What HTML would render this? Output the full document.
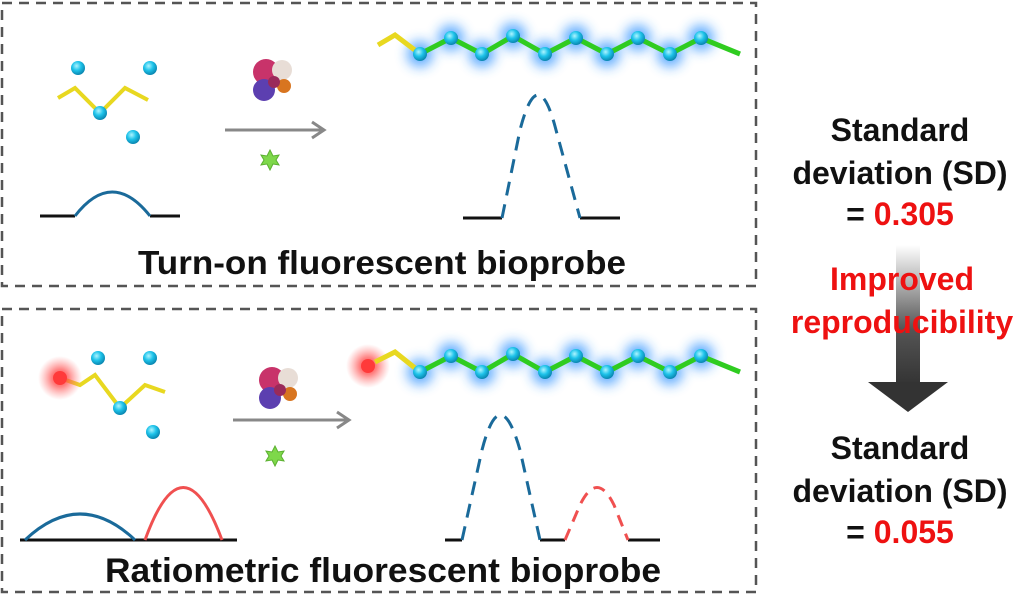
<!DOCTYPE html>
<html><head><meta charset="utf-8"><style>
html,body{margin:0;padding:0;background:#fff;width:1024px;height:597px;overflow:hidden}
text{font-family:"Liberation Sans",Arial,sans-serif;font-weight:bold}
</style></head><body>
<svg width="1024" height="597" viewBox="0 0 1024 597" xmlns="http://www.w3.org/2000/svg">
<defs>
<radialGradient id="sph" cx="40%" cy="35%" r="65%"><stop offset="0" stop-color="#aef4ff"/><stop offset="0.5" stop-color="#1ec3ea"/><stop offset="1" stop-color="#0a86b0"/></radialGradient>
<filter id="blur" x="-50%" y="-50%" width="200%" height="200%"><feGaussianBlur stdDeviation="6"/></filter>
<radialGradient id="rglow"><stop offset="0" stop-color="#ff3030" stop-opacity="1"/><stop offset="0.4" stop-color="#ff5050" stop-opacity="0.7"/><stop offset="1" stop-color="#ff8080" stop-opacity="0"/></radialGradient>
<linearGradient id="arr" x1="0" y1="0" x2="0" y2="1"><stop offset="0" stop-color="#fff"/><stop offset="0.6" stop-color="#555"/><stop offset="1" stop-color="#333"/></linearGradient>
<g id="prot">
<circle cx="-6" cy="-8" r="13" fill="#c8336a"/><circle cx="10" cy="-10" r="10" fill="#e8ddd6"/><circle cx="-8" cy="10" r="11" fill="#5c3fb0"/><circle cx="12" cy="6" r="7" fill="#d87520"/><circle cx="2" cy="2" r="6" fill="#9a2a5a"/>
</g>
<g id="star"><polygon points="0,-10 3,-4 9,-5 6,0 9,5 3,4 0,10 -3,4 -9,5 -6,0 -9,-5 -3,-4" fill="#7ed84a" stroke="#5bb030" stroke-width="1"/></g>
<g id="glows" fill="#2a90ff" opacity="0.75" filter="url(#blur)"><circle cx="420" cy="54" r="13"/><circle cx="451" cy="38" r="13"/><circle cx="482" cy="54" r="13"/><circle cx="513" cy="36" r="13"/><circle cx="545" cy="54" r="13"/><circle cx="576" cy="38" r="13"/><circle cx="607" cy="54" r="13"/><circle cx="638" cy="38" r="13"/><circle cx="670" cy="54" r="13"/><circle cx="701" cy="38" r="13"/></g>
<g id="chain">
<polyline points="420,54 451,38 482,54 513,36 545,54 576,38 607,54 638,38 670,54 701,38 740,54" fill="none" stroke="#2fcc20" stroke-width="5"/>
<g fill="url(#sph)"><circle cx="420" cy="54" r="7"/><circle cx="451" cy="38" r="7"/><circle cx="482" cy="54" r="7"/><circle cx="513" cy="36" r="7"/><circle cx="545" cy="54" r="7"/><circle cx="576" cy="38" r="7"/><circle cx="607" cy="54" r="7"/><circle cx="638" cy="38" r="7"/><circle cx="670" cy="54" r="7"/><circle cx="701" cy="38" r="7"/></g>
</g>
</defs>
<rect x="2" y="3" width="754" height="283" fill="none" stroke="#555" stroke-width="2.5" stroke-dasharray="10,7"/>
<rect x="2" y="309" width="754" height="283" fill="none" stroke="#555" stroke-width="2.5" stroke-dasharray="10,7"/>

<!-- top left -->
<circle cx="78" cy="68" r="7" fill="url(#sph)"/><circle cx="150" cy="68" r="7" fill="url(#sph)"/><circle cx="133" cy="137" r="7" fill="url(#sph)"/>
<polyline points="58,98 75,88 100,113 125,88 148,100" fill="none" stroke="#e8d820" stroke-width="4"/>
<circle cx="100" cy="113" r="7" fill="url(#sph)"/>
<use href="#prot" x="272" y="80"/>
<line x1="225" y1="130" x2="322" y2="130" stroke="#888" stroke-width="3"/><polyline points="312,122 324,130 312,138" fill="none" stroke="#888" stroke-width="3"/>
<use href="#star" x="270" y="160"/>
<line x1="40" y1="216" x2="75" y2="216" stroke="#111" stroke-width="3"/><line x1="150" y1="216" x2="180" y2="216" stroke="#111" stroke-width="3"/>
<path d="M75,216 Q112,168 150,216" fill="none" stroke="#1a6a9a" stroke-width="3"/>
<line x1="463" y1="218" x2="502" y2="218" stroke="#111" stroke-width="3"/><line x1="580" y1="218" x2="620" y2="218" stroke="#111" stroke-width="3"/>
<path d="M502,218 L520,130 Q538,60 556,130 L580,218" fill="none" stroke="#1a6a9a" stroke-width="3" stroke-dasharray="14,9"/>
<use href="#glows"/>
<polyline points="378,45 395,35 420,54" fill="none" stroke="#e8d820" stroke-width="5"/>
<use href="#chain"/>
<text x="382" y="274" font-size="33" text-anchor="middle" textLength="488" lengthAdjust="spacingAndGlyphs" fill="#111">Turn-on fluorescent bioprobe</text>

<!-- bottom left -->
<circle cx="98" cy="358" r="7" fill="url(#sph)"/><circle cx="150" cy="358" r="7" fill="url(#sph)"/><circle cx="153" cy="432" r="7" fill="url(#sph)"/>
<polyline points="60,378 80,385 95,375 120,408 145,385 165,392" fill="none" stroke="#e8d820" stroke-width="4"/>
<circle cx="120" cy="408" r="7" fill="url(#sph)"/>
<circle cx="60" cy="378" r="22" fill="url(#rglow)"/><circle cx="60" cy="378" r="7" fill="#ff3a3a"/>
<use href="#prot" x="278" y="388"/>
<line x1="233" y1="420" x2="347" y2="420" stroke="#888" stroke-width="3"/><polyline points="337,412 349,420 337,428" fill="none" stroke="#888" stroke-width="3"/>
<use href="#star" x="275" y="456"/>
<line x1="20" y1="540" x2="237" y2="540" stroke="#111" stroke-width="3"/>
<path d="M25,540 Q80,488 135,540" fill="none" stroke="#1a6a9a" stroke-width="3"/>
<path d="M145,540 Q183,435 222,540" fill="none" stroke="#f05050" stroke-width="3"/>
<line x1="445" y1="540" x2="462" y2="540" stroke="#111" stroke-width="3"/><line x1="540" y1="540" x2="565" y2="540" stroke="#111" stroke-width="3"/><line x1="628" y1="540" x2="660" y2="540" stroke="#111" stroke-width="3"/>
<path d="M462,540 L482,450 Q500,380 520,450 L540,540" fill="none" stroke="#1a6a9a" stroke-width="3" stroke-dasharray="14,9"/>
<path d="M565,540 L580,505 Q597,470 614,505 L628,540" fill="none" stroke="#f05050" stroke-width="3" stroke-dasharray="12,8"/>
<g transform="translate(0,318)"><use href="#glows"/></g>
<circle cx="368" cy="366" r="22" fill="url(#rglow)"/><circle cx="368" cy="366" r="7" fill="#ff3a3a"/>
<polyline points="375,362 395,352 420,372" fill="none" stroke="#e8d820" stroke-width="5"/>
<g transform="translate(0,318)"><use href="#chain"/></g>
<text x="383" y="582" font-size="34" text-anchor="middle" textLength="556" lengthAdjust="spacingAndGlyphs" fill="#111">Ratiometric fluorescent bioprobe</text>

<!-- right -->
<rect x="896" y="245" width="24" height="140" fill="url(#arr)"/>
<polygon points="868,382 948,382 908,412" fill="#333"/>
<g font-size="32" text-anchor="middle" fill="#111">
<text x="900" y="141">Standard</text>
<text x="900" y="184">deviation (SD)</text>
<text x="900" y="225">= <tspan fill="#ee1111">0.305</tspan></text>
<text x="902" y="290" fill="#ee1111">Improved</text>
<text x="902" y="333" fill="#ee1111">reproducibility</text>
<text x="900" y="459">Standard</text>
<text x="900" y="502">deviation (SD)</text>
<text x="900" y="543">= <tspan fill="#ee1111">0.055</tspan></text>
</g>
</svg>
</body></html>
